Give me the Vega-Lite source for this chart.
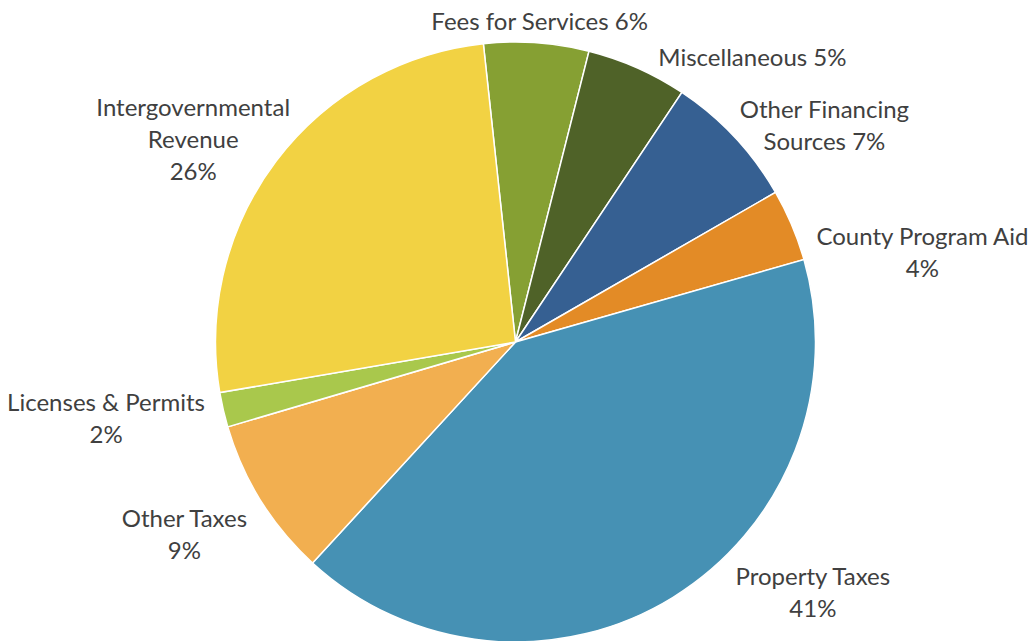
{
  "$schema": "https://vega.github.io/schema/vega-lite/v6.json",
  "width": 1031,
  "height": 600,
  "autosize": "none",
  "padding": {"left": 0, "top": 42, "right": 0, "bottom": 0},
  "background": "white",
  "config": {"view": {"stroke": null}},
  "data": {
    "values": [
      {"category": "Fees for Services", "value": 5.65, "ord": 1, "label": "Fees for Services 6%"},
      {"category": "Miscellaneous", "value": 5.42, "ord": 2, "label": "Miscellaneous 5%"},
      {"category": "Other Financing Sources", "value": 7.33, "ord": 3, "label": "Other Financing\nSources 7%"},
      {"category": "County Program Aid", "value": 3.88, "ord": 4, "label": "County Program Aid\n4%"},
      {"category": "Property Taxes", "value": 41.26, "ord": 5, "label": "Property Taxes\n41%"},
      {"category": "Other Taxes", "value": 8.61, "ord": 6, "label": "Other Taxes\n9%"},
      {"category": "Licenses & Permits", "value": 1.87, "ord": 7, "label": "Licenses & Permits\n2%"},
      {"category": "Intergovernmental Revenue", "value": 25.99, "ord": 8, "label": "Intergovernmental\nRevenue\n26%"}
    ]
  },
  "encoding": {
    "theta": {"field": "value", "type": "quantitative", "stack": true, "scale": {"range": [-0.10734, 6.17585]}},
    "order": {"field": "ord", "type": "quantitative"}
  },
  "layer": [
    {
      "mark": {"type": "arc", "outerRadius": 300, "stroke": "white", "strokeWidth": 1.5},
      "encoding": {
        "color": {
          "field": "category",
          "type": "nominal",
          "legend": null,
          "scale": {
            "domain": ["Fees for Services", "Miscellaneous", "Other Financing Sources", "County Program Aid", "Property Taxes", "Other Taxes", "Licenses & Permits", "Intergovernmental Revenue"],
            "range": ["#86A033", "#4F6228", "#366092", "#E38B26", "#4691B4", "#F2AF50", "#A9C84C", "#F2D243"]
          }
        }
      }
    },
    {
      "mark": {
        "type": "text",
        "radius": 330,
        "font": "Lato",
        "fontSize": 24,
        "color": "#404040",
        "lineBreak": "\n",
        "lineHeight": 32,
        "align": "center",
        "baseline": "middle",
        "dx": {"expr": "[1,103,68,103,124,-51,-88,-59][datum.ord-1]"},
        "dy": {"expr": "[10,19,-5,25,-45,3,-13,-34][datum.ord-1]"}
      },
      "encoding": {"text": {"field": "label", "type": "nominal"}}
    }
  ]
}
